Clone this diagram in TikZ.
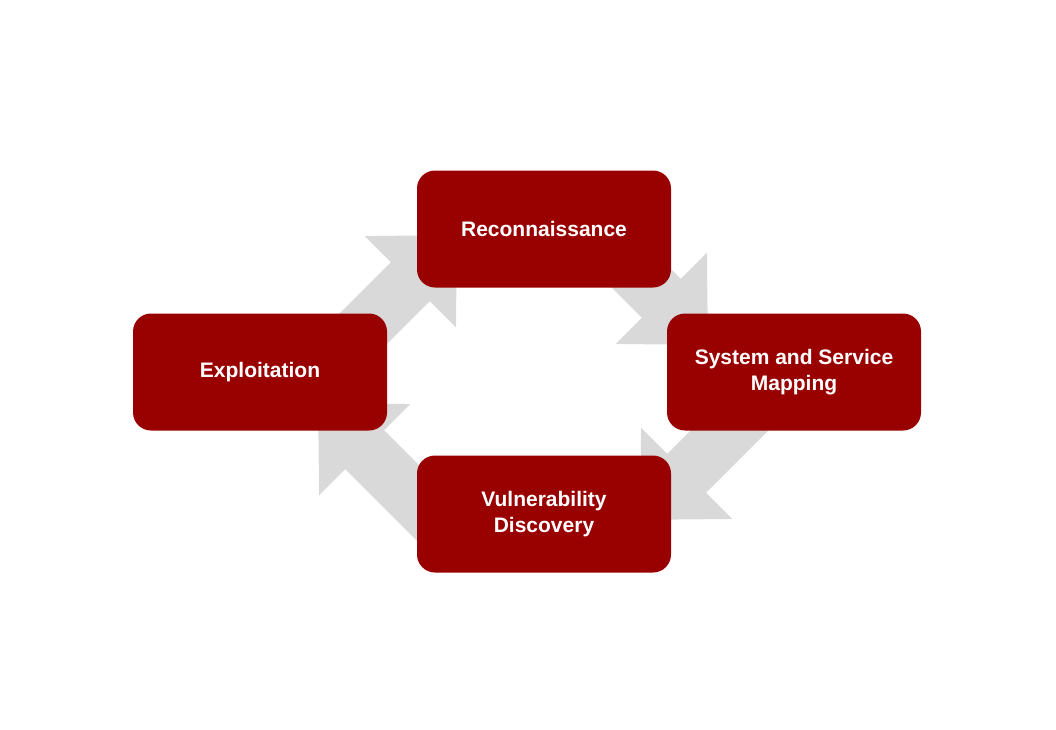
\documentclass[tikz,border=0pt]{standalone}
\usepackage{fontspec}
\setmainfont{Liberation Sans}
\usetikzlibrary{arrows.meta}
\definecolor{boxred}{HTML}{990000}
\definecolor{flowgray}{HTML}{D9D9D9}
\tikzset{
  phase/.style={rectangle, rounded corners=18pt, fill=boxred, draw=none,
    minimum width=254pt, minimum height=117pt, align=center,
    text=white, font=\fontsize{21}{26}\selectfont\bfseries},
  flow/.style={draw=flowgray, line width=55pt,
    -{Triangle[length=66pt,width=125pt,fill=flowgray]}}
}
\begin{document}
\begin{tikzpicture}[x=1pt,y=-1pt]
  \useasboundingbox (0,0) rectangle (1056,729);

  %% flow arrows (behind the boxes)
  \coordinate (flow1/start) at (330,362);
  \coordinate (flow1/end) at (457,235);
  \coordinate (flow2/start) at (600,237);
  \coordinate (flow2/end) at (708,345);
  \coordinate (flow3/start) at (770,390);
  \coordinate (flow3/end) at (640,520);
  \coordinate (flow4/start) at (460,545);
  \coordinate (flow4/end) at (318,403);
  \foreach \myn in {1,...,4}
  {
    \draw[flow] (flow\myn/start) -- (flow\myn/end);
  }

  %% the four phases
  \node[phase] (recon)   at (544,229) {Reconnaissance};
  \node[phase] (mapping) at (794,372) {System and Service\\Mapping};
  \node[phase] (vuln)    at (544,514) {Vulnerability\\Discovery};
  \node[phase] (exploit) at (260,372) {Exploitation};
\end{tikzpicture}
\end{document}
